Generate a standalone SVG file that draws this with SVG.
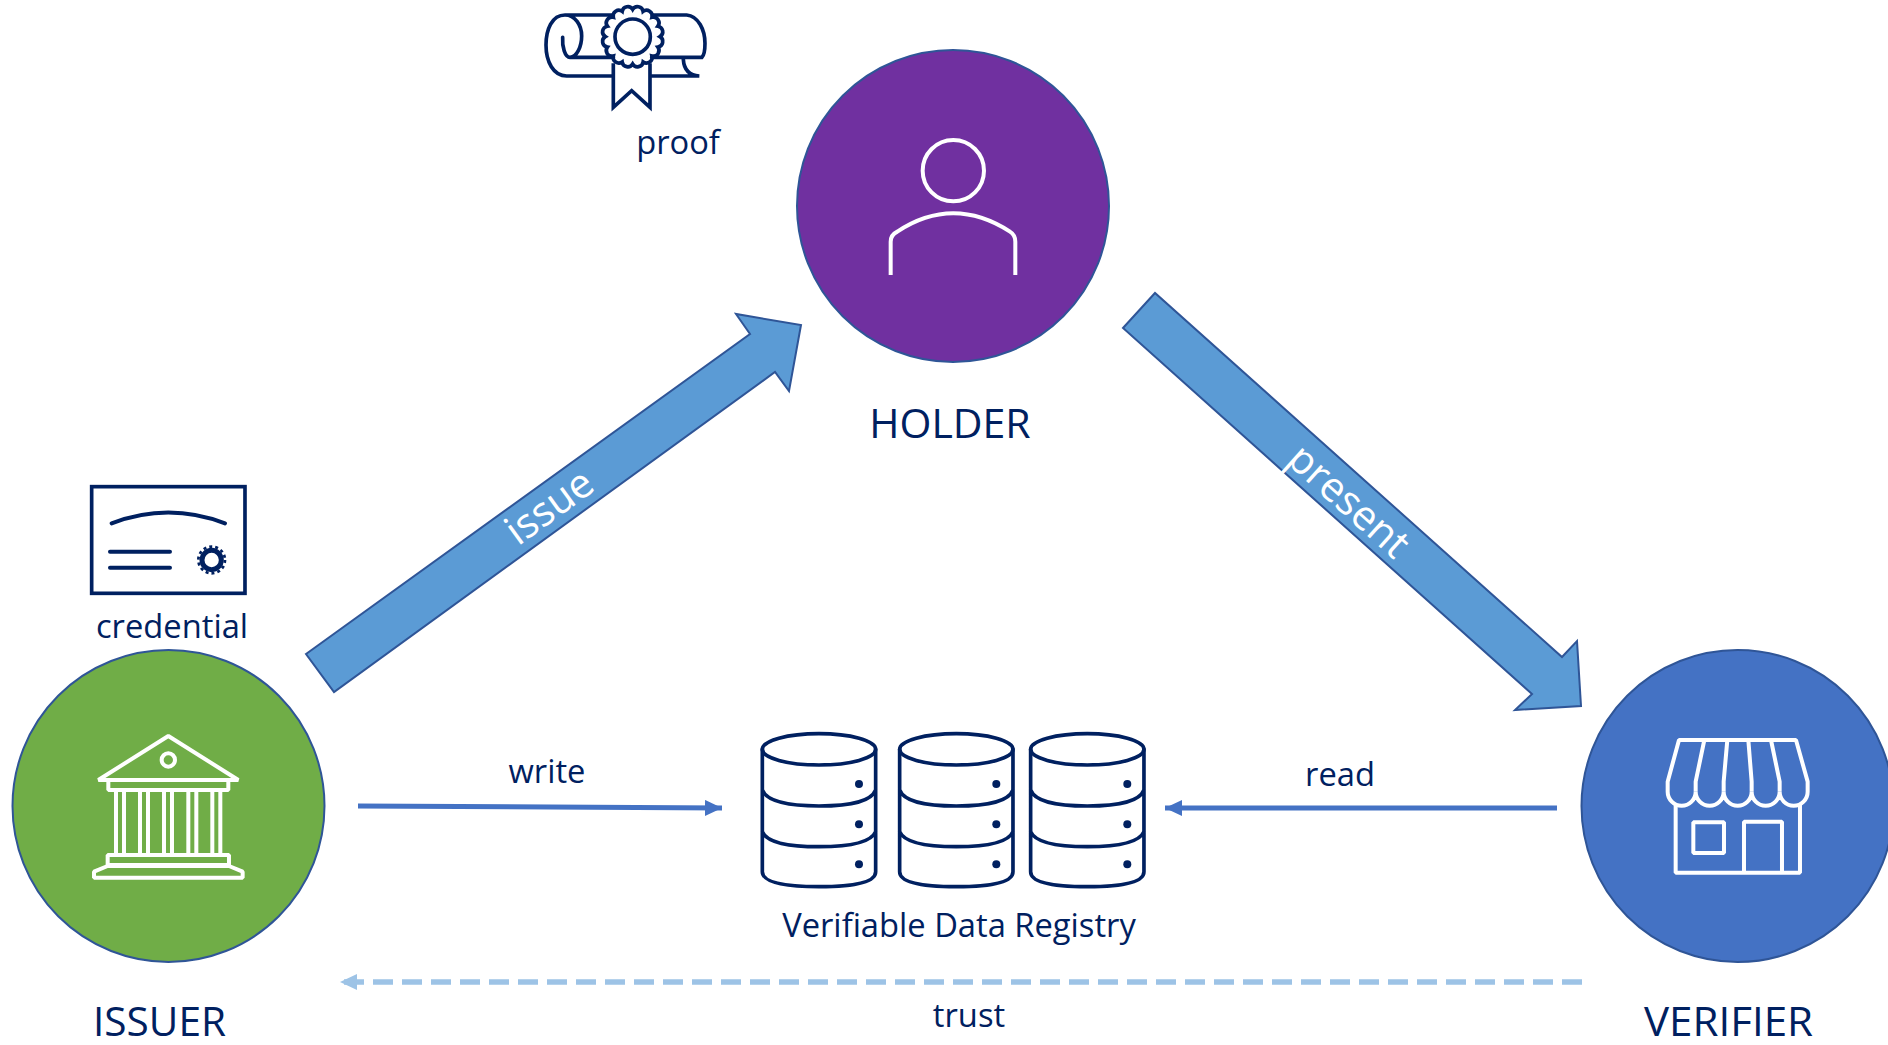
<svg xmlns="http://www.w3.org/2000/svg" width="1888" height="1045" viewBox="0 0 1888 1045">
<style>
text{font-family:"Open Sans","Noto Sans","Liberation Sans",sans-serif;fill:#002060}
.s{font-size:32.700px}
.l{font-size:41px}
.w{fill:#fff;font-size:41px}
.c{stroke:#2F5597;stroke-width:2}
.iw{fill:none;stroke:#fff;stroke-width:12;stroke-linejoin:bevel}
.in{fill:none;stroke:#002060;stroke-width:11;stroke-linecap:round}
.big{fill:#5B9BD5;stroke:#2F5597;stroke-width:2}
.thin{stroke:#4472C4;stroke-width:5;fill:none}
</style>
<defs>
<marker id="h" markerUnits="userSpaceOnUse" markerWidth="18" markerHeight="16" refX="17" refY="8" orient="auto"><path d="M0 0L17 8L0 16Z" fill="#4472C4"/></marker>
<marker id="ht" markerUnits="userSpaceOnUse" markerWidth="18" markerHeight="16" refX="17" refY="8" orient="auto"><path d="M0 0L17 8L0 16Z" fill="#9DC3E6"/></marker>
<g id="cyl">
<ellipse cx="237" cy="118" rx="170" ry="47"/>
<path d="M67 118V485Q67 530 237 530Q407 530 407 485V118M67 240Q85 288 237 288Q389 288 407 240M67 365Q85 410 237 410Q389 410 407 365"/>
<circle cx="357" cy="222" r="12" fill="#002060" stroke="none"/>
<circle cx="357" cy="343" r="12" fill="#002060" stroke="none"/>
<circle cx="357" cy="463" r="12" fill="#002060" stroke="none"/>
</g>
</defs>
<g id="connectors">
<polygon class="big" points="306,654 750,334 736,314 801,325 789,391 775,372 334,692"/>
<polygon class="big" points="1123,328 1155,293 1562,657 1577,641 1581,706 1515,710 1532,694"/>
<line class="thin" x1="358" y1="806" x2="722" y2="808" marker-end="url(#h)"/>
<line class="thin" x1="1557" y1="808" x2="1165" y2="808" marker-end="url(#h)"/>
<line x1="1582" y1="982" x2="340" y2="982" stroke="#9DC3E6" stroke-width="5.500" stroke-dasharray="20 9" marker-end="url(#ht)"/>
<text class="w" transform="translate(551,509) rotate(-36)" text-anchor="middle" dominant-baseline="middle">issue</text>
<text class="w" transform="translate(1347,503) rotate(42)" text-anchor="middle" dominant-baseline="middle">present</text>
<text class="s" x="547" y="783" text-anchor="middle">write</text>
<text class="s" x="1340" y="786" text-anchor="middle">read</text>
<text class="s" x="969" y="1027" text-anchor="middle">trust</text>
</g>
<g id="holder">
<circle class="c" cx="953" cy="206" r="156" fill="#7030A0"/>
<g transform="translate(860,120) scale(.3333)" class="iw">
<circle cx="280" cy="152" r="92"/>
<path d="M92 465V365Q92 345 112 335Q195 280 280 280Q365 280 450 335Q466 345 466 365V465"/>
</g>
<text class="l" x="950" y="438" text-anchor="middle">HOLDER</text>
</g>
<g id="issuer">
<circle class="c" cx="168.500" cy="806" r="156" fill="#70AD47"/>
<g transform="translate(70,710) scale(.3333)" class="iw">
<path d="M85 210L295 78L505 210Z"/>
<circle cx="295" cy="150" r="20"/>
<path d="M115 212V240H475V212M138 240V435M162 240V435M210 240V435M234 240V435M282 240V435M306 240V435M355 240V435M379 240V435M427 240V435M451 240V435"/>
<path d="M113 465V435H477V465Z"/>
<path d="M113 468L72 485V503H518V485L477 468Z"/>
</g>
<text class="l" x="159.500" y="1036" text-anchor="middle" textLength="133" lengthAdjust="spacingAndGlyphs">ISSUER</text>
</g>
<g id="verifier">
<circle class="c" cx="1737.500" cy="806" r="156" fill="#4472C4"/>
<g transform="translate(1640,710) scale(.3333)" class="iw">
<path d="M117 90H468L503 215V245A42 42 0 0 1 419 245A42 42 0 0 1 335 245A42 42 0 0 1 251 245A42 42 0 0 1 167 245A42 42 0 0 1 83 245V215Z"/>
<path d="M193 90L167 215V245M262 90L251 215V245M325 90L335 215V245M393 90L419 215V245"/>
<path d="M107 285V488H480V285"/>
<rect x="160" y="337" width="92" height="92"/>
<path d="M312 488V335H426V488"/>
</g>
<text class="l" x="1728.500" y="1036" text-anchor="middle" textLength="169" lengthAdjust="spacingAndGlyphs">VERIFIER</text>
</g>
<g id="credential">
<g transform="translate(70,470) scale(.3333)" class="in">
<rect x="65" y="50" width="460" height="320" style="stroke-linecap:butt"/>
<path d="M125 160Q295 95 465 160M120 245H300M120 293H300" stroke-width="12"/>
<circle cx="425" cy="270" r="29" stroke-width="15"/>
<circle cx="425" cy="270" r="40" stroke-width="8" stroke-dasharray="9 9" style="stroke-linecap:butt"/>
</g>
<text class="s" x="172" y="638" text-anchor="middle">credential</text>
</g>
<g id="proof">
<g transform="translate(520,0) scale(.3333)" class="in">
<path d="M275 45H135C95 45 78 90 78 135C78 185 100 228 140 228H275M395 228H538C510 226 492 210 490 178M400 45H500C535 48 555 90 555 130C555 150 553 165 546 172H395M280 172H150C135 172 126 140 128 112M135 45C165 45 185 75 185 108C185 140 170 172 150 172"/>
<g transform="translate(338,110)">
<path d="M82 0A17 17 0 0 1 75.800 31.400A17 17 0 0 1 58 58A17 17 0 0 1 31.400 75.800A17 17 0 0 1 0 82A17 17 0 0 1 -31.400 75.800A17 17 0 0 1 -58 58A17 17 0 0 1 -75.800 31.400A17 17 0 0 1 -82 0A17 17 0 0 1 -75.800 -31.400A17 17 0 0 1 -58 -58A17 17 0 0 1 -31.400 -75.800A17 17 0 0 1 0 -82A17 17 0 0 1 31.400 -75.800A17 17 0 0 1 58 -58A17 17 0 0 1 75.800 -31.400A17 17 0 0 1 82 0Z"/>
<circle r="53"/>
</g>
<path d="M280 190V322L335 272L390 322V190" style="stroke-linecap:butt"/>
</g>
<text class="s" x="678" y="154" text-anchor="middle">proof</text>
</g>
<g id="registry">
<g transform="translate(740,710) scale(.3333)" class="in">
<use href="#cyl"/>
<use href="#cyl" x="412"/>
<use href="#cyl" x="805"/>
</g>
<text class="s" x="959" y="937" text-anchor="middle">Verifiable Data Registry</text>
</g>
</svg>
